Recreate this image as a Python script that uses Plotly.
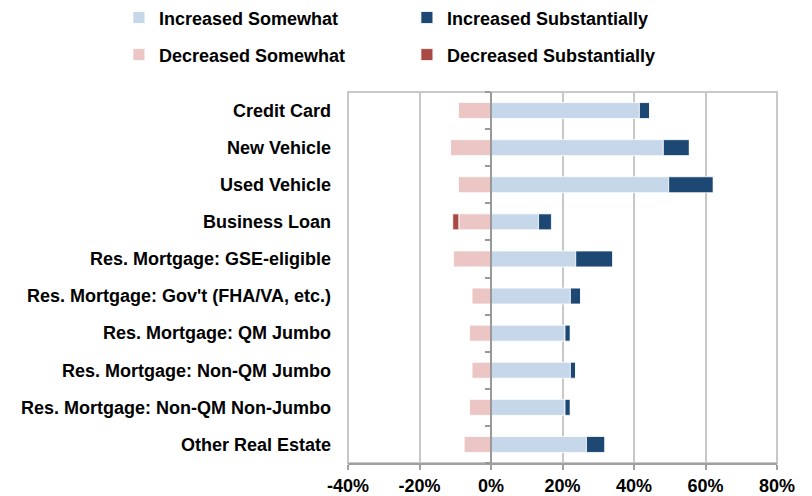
import plotly.graph_objects as go

categories = [
    "Credit Card",
    "New Vehicle",
    "Used Vehicle",
    "Business Loan",
    "Res. Mortgage: GSE-eligible",
    "Res. Mortgage: Gov't (FHA/VA, etc.)",
    "Res. Mortgage: QM Jumbo",
    "Res. Mortgage: Non-QM Jumbo",
    "Res. Mortgage: Non-QM Non-Jumbo",
    "Other Real Estate",
]
increased_somewhat = [41.5, 48.2, 49.7, 13.3, 23.7, 22.2, 20.7, 22.2, 20.7, 26.7]
increased_substantially = [2.9, 7.3, 12.5, 3.6, 10.4, 2.9, 1.5, 1.5, 1.5, 5.2]
decreased_somewhat = [-9.1, -11.3, -9.1, -9.0, -10.5, -5.3, -6.0, -5.3, -6.0, -7.5]
decreased_substantially = [0.0, 0.0, 0.0, -1.7, 0.0, 0.0, 0.0, 0.0, 0.0, 0.0]
x_ticks = [-40, -20, 0, 20, 40, 60, 80]
x_tick_labels = ["-40%", "-20%", "0%", "20%", "40%", "60%", "80%"]

FONT = "Liberation Sans, Arial, sans-serif"
FS = 18

series = [
    ("Increased Somewhat", increased_somewhat, "#c5d7e9", "legend"),
    ("Increased Substantially", increased_substantially, "#1c4873", "legend"),
    ("Decreased Somewhat", decreased_somewhat, "#ecc5c5", "legend2"),
    ("Decreased Substantially", decreased_substantially, "#a84a43", "legend2"),
]

fig = go.Figure()
for name, vals, color, lg in series:
    fig.add_trace(go.Bar(
        y=categories, x=[v / 100 for v in vals], name=name, orientation="h",
        marker=dict(color=color, line=dict(color="white", width=0.8)),
        legend=lg,
    ))

# invisible trace on helper axis so its ticks at category boundaries render
n = len(categories)
fig.add_trace(go.Scatter(x=[0], y=[0], yaxis="y2", mode="markers",
                         marker=dict(opacity=0), showlegend=False, hoverinfo="skip"))

xmin, xmax = x_ticks[0] / 100, x_ticks[-1] / 100
zero_frac = (0 - xmin) / (xmax - xmin)

legend_common = dict(
    orientation="h", xanchor="left", yanchor="middle", x=-0.534,
    entrywidth=243, entrywidthmode="pixels",
    font=dict(family=FONT, size=FS, color="black", weight="bold"),
    bgcolor="rgba(0,0,0,0)", itemclick=False, traceorder="normal",
)

fig.update_layout(
    width=812, height=496,
    margin=dict(l=348, r=35, t=92, b=33, autoexpand=False),
    paper_bgcolor="white", plot_bgcolor="white",
    barmode="relative", bargap=0.57,
    font=dict(family=FONT, size=FS, color="black", weight="bold"),
    legend=dict(legend_common, y=1.2),
    legend2=dict(legend_common, y=1.1),
    xaxis=dict(
        range=[xmin, xmax], tickvals=[t / 100 for t in x_ticks], ticktext=x_tick_labels,
        showgrid=True, gridcolor="#c8c8c8", gridwidth=2,
        zeroline=False, showline=True, linecolor="#a0a0a0", linewidth=2,
        ticks="outside", ticklen=5, tickwidth=2, tickcolor="#a0a0a0",
        tickfont=dict(family=FONT, size=FS, color="black", weight="bold"),
    ),
    yaxis=dict(
        autorange="reversed", showgrid=False, zeroline=False, showline=False,
        ticks="", ticklabelstandoff=16,
        tickfont=dict(family=FONT, size=FS, color="black", weight="bold"),
    ),
    yaxis2=dict(
        overlaying="y", anchor="free", position=zero_frac, side="left",
        range=[n - 0.5, -0.5], tickvals=[i - 0.5 for i in range(n + 1)],
        showticklabels=False, ticks="outside", ticklen=5, tickwidth=2, tickcolor="#999999",
        showline=True, linecolor="#999999", linewidth=2,
        showgrid=False, zeroline=False,
    ),
    shapes=[dict(type="rect", xref="paper", yref="paper", x0=0, x1=1, y0=0, y1=1,
                 line=dict(color="#c8c8c8", width=2), layer="below")],
)

fig.write_html("out.html", config={"displayModeBar": False},
               post_script="document.body.style.margin='0';")
